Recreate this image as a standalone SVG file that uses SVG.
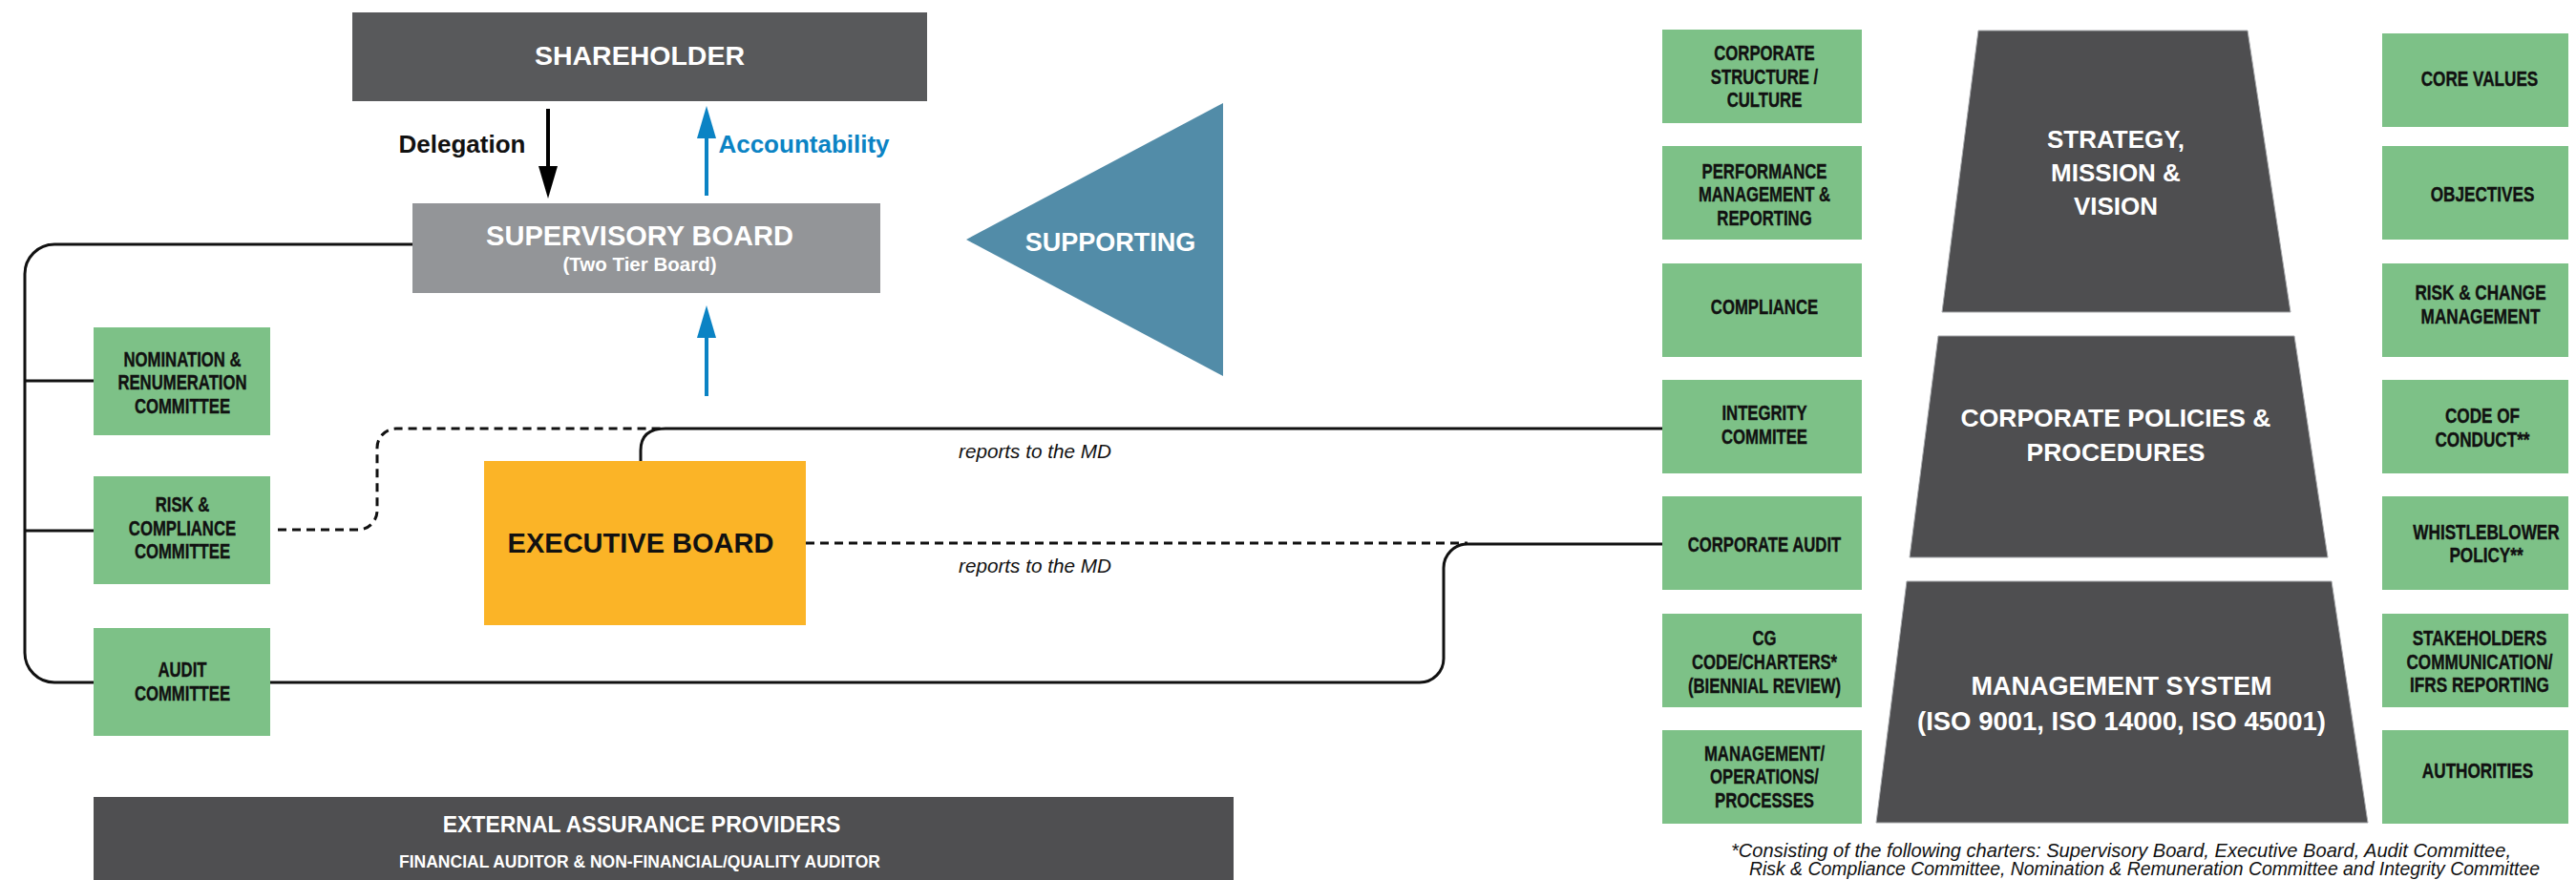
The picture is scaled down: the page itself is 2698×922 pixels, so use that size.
<svg xmlns="http://www.w3.org/2000/svg" width="2698" height="922" viewBox="0 0 2698 922">
<style>
.title{font-family:"Liberation Sans",Arial,sans-serif;font-weight:bold;text-anchor:middle}
.wt{fill:#ffffff}
.box{font-family:"Liberation Sans",Arial,sans-serif;font-weight:bold;font-size:22px;text-anchor:middle;fill:#111111;stroke:#111111;stroke-width:0.4}
.green{fill:#7dc187}
.trap{fill:#4e4e50;stroke:#a7a9ac;stroke-width:1}
.conn{fill:none;stroke:#111111;stroke-width:3}
.dash{fill:none;stroke:#111111;stroke-width:3;stroke-dasharray:9 6}
.note{font-family:"Liberation Sans",Arial,sans-serif;font-style:italic;fill:#111111}
</style>
<defs>
<marker id="arrBlack" markerUnits="userSpaceOnUse" markerWidth="34" markerHeight="20" viewBox="0 0 34 20" refX="10" refY="10" orient="auto"><path d="M0,0 L34,10 L0,20 Z" fill="#000000"/></marker>
<marker id="arrBlue" markerUnits="userSpaceOnUse" markerWidth="34" markerHeight="20" viewBox="0 0 34 20" refX="10" refY="10" orient="auto"><path d="M0,0 L34,10 L0,20 Z" fill="#0b83c4"/></marker>
</defs>
<rect width="2698" height="922" fill="#ffffff"/>

<g id="connectors">
<path class="conn" d="M432,256 H57 A31,31 0 0 0 26,287 V684 A31,31 0 0 0 57,715 H1487 A25,25 0 0 0 1512,690 V595 A25,25 0 0 1 1537,570 H1742"/>
<path class="conn" d="M26,399 H98"/>
<path class="conn" d="M26,556 H98"/>
<path class="dash" d="M291,555 H375 A20,20 0 0 0 395,535 V469 A20,20 0 0 1 415,449 H696"/>
<path class="conn" d="M671,483 V472 Q671,449 697,449 H1742"/>
<path class="dash" d="M844,569 H1537"/>
<line x1="574" y1="114" x2="574" y2="184" stroke="#000000" stroke-width="4" marker-end="url(#arrBlack)"/>
<line x1="740" y1="205" x2="740" y2="135" stroke="#0b83c4" stroke-width="4" marker-end="url(#arrBlue)"/>
<line x1="740" y1="415" x2="740" y2="344" stroke="#0b83c4" stroke-width="4" marker-end="url(#arrBlue)"/>
<text class="title" x="484" y="160" font-size="26" fill="#111111">Delegation</text>
<text class="title" x="842" y="160" font-size="26" fill="#0b83c4">Accountability</text>
<text class="note" x="1004" y="480" font-size="20" textLength="160" lengthAdjust="spacingAndGlyphs">reports to the MD</text>
<text class="note" x="1004" y="600" font-size="20" textLength="160" lengthAdjust="spacingAndGlyphs">reports to the MD</text>
</g>

<g id="shareholder">
<rect x="369" y="13" width="602" height="93" fill="#58595b"/>
<text class="title wt" x="670" y="68" font-size="28.5">SHAREHOLDER</text>
</g>

<g id="supervisory-board">
<rect x="432" y="213" width="490" height="94" fill="#939598"/>
<text class="title wt" x="670" y="257" font-size="29">SUPERVISORY BOARD</text>
<text class="title wt" x="670" y="284" font-size="20.5">(Two Tier Board)</text>
</g>

<g id="executive-board">
<rect x="507" y="483" width="337" height="172" fill="#fbb427"/>
<text class="title" x="671" y="579" font-size="29" fill="#111111">EXECUTIVE BOARD</text>
</g>

<g id="supporting">
<polygon points="1012,251 1281,108 1281,394" fill="#528ca8"/>
<text class="title wt" x="1163" y="263" font-size="27">SUPPORTING</text>
</g>

<g id="nomination-committee">
<rect class="green" x="98" y="343" width="185" height="113"/>
<g transform="translate(191,0) scale(0.76,1)">
<text class="box" x="0" y="384">NOMINATION &amp;</text>
<text class="box" x="0" y="408">RENUMERATION</text>
<text class="box" x="0" y="433">COMMITTEE</text>
</g>
</g>

<g id="risk-compliance-committee">
<rect class="green" x="98" y="499" width="185" height="113"/>
<g transform="translate(191,0) scale(0.76,1)">
<text class="box" x="0" y="536">RISK &amp;</text>
<text class="box" x="0" y="561">COMPLIANCE</text>
<text class="box" x="0" y="585">COMMITTEE</text>
</g>
</g>

<g id="audit-committee">
<rect class="green" x="98" y="658" width="185" height="113"/>
<g transform="translate(191,0) scale(0.76,1)">
<text class="box" x="0" y="709">AUDIT</text>
<text class="box" x="0" y="734">COMMITTEE</text>
</g>
</g>

<g id="external-assurance">
<rect x="98" y="835" width="1194" height="87" fill="#4f4f51"/>
<text class="title wt" x="672" y="872" font-size="23">EXTERNAL ASSURANCE PROVIDERS</text>
<text class="title wt" x="670" y="909" font-size="17.5">FINANCIAL AUDITOR &amp; NON-FINANCIAL/QUALITY AUDITOR</text>
</g>

<g id="strategy">
<polygon class="trap" points="2072,32 2354,32 2399,327 2034,327"/>
<text class="title wt" x="2216" y="155" font-size="26">STRATEGY,</text>
<text class="title wt" x="2216" y="190" font-size="26">MISSION &amp;</text>
<text class="title wt" x="2216" y="225" font-size="26">VISION</text>
</g>

<g id="corporate-policies">
<polygon class="trap" points="2030,352 2403,352 2438,584 2000,584"/>
<text class="title wt" x="2216" y="447" font-size="26.5">CORPORATE POLICIES &amp;</text>
<text class="title wt" x="2216" y="483" font-size="26.5">PROCEDURES</text>
</g>

<g id="management-system">
<polygon class="trap" points="1997,609 2442,609 2480,862 1965,862"/>
<text class="title wt" x="2222" y="728" font-size="27">MANAGEMENT SYSTEM</text>
<text class="title wt" x="2222" y="765" font-size="27.5">(ISO 9001, ISO 14000, ISO 45001)</text>
</g>

<g id="corporate-structure">
<rect class="green" x="1741" y="31" width="209" height="98"/>
<g transform="translate(1848,0) scale(0.76,1)">
<text class="box" x="0" y="63">CORPORATE</text>
<text class="box" x="0" y="88">STRUCTURE /</text>
<text class="box" x="0" y="112">CULTURE</text>
</g>
</g>
<g id="performance-management">
<rect class="green" x="1741" y="153" width="209" height="98"/>
<g transform="translate(1848,0) scale(0.76,1)">
<text class="box" x="0" y="187">PERFORMANCE</text>
<text class="box" x="0" y="211">MANAGEMENT &amp;</text>
<text class="box" x="0" y="236">REPORTING</text>
</g>
</g>
<g id="compliance">
<rect class="green" x="1741" y="276" width="209" height="98"/>
<g transform="translate(1848,0) scale(0.76,1)">
<text class="box" x="0" y="329">COMPLIANCE</text>
</g>
</g>
<g id="integrity-committee">
<rect class="green" x="1741" y="398" width="209" height="98"/>
<g transform="translate(1848,0) scale(0.76,1)">
<text class="box" x="0" y="440">INTEGRITY</text>
<text class="box" x="0" y="465">COMMITEE</text>
</g>
</g>
<g id="corporate-audit">
<rect class="green" x="1741" y="520" width="209" height="98"/>
<g transform="translate(1848,0) scale(0.76,1)">
<text class="box" x="0" y="578">CORPORATE AUDIT</text>
</g>
</g>
<g id="cg-code">
<rect class="green" x="1741" y="643" width="209" height="98"/>
<g transform="translate(1848,0) scale(0.76,1)">
<text class="box" x="0" y="676">CG</text>
<text class="box" x="0" y="701">CODE/CHARTERS*</text>
<text class="box" x="0" y="726">(BIENNIAL REVIEW)</text>
</g>
</g>
<g id="management-operations">
<rect class="green" x="1741" y="765" width="209" height="98"/>
<g transform="translate(1848,0) scale(0.76,1)">
<text class="box" x="0" y="797">MANAGEMENT/</text>
<text class="box" x="0" y="821">OPERATIONS/</text>
<text class="box" x="0" y="846">PROCESSES</text>
</g>
</g>

<g id="core-values">
<rect class="green" x="2495" y="35" width="195" height="98"/>
<g transform="translate(2597,0) scale(0.78,1)">
<text class="box" x="0" y="90">CORE VALUES</text>
</g>
</g>
<g id="objectives">
<rect class="green" x="2495" y="153" width="195" height="98"/>
<g transform="translate(2600,0) scale(0.78,1)">
<text class="box" x="0" y="211">OBJECTIVES</text>
</g>
</g>
<g id="risk-change">
<rect class="green" x="2495" y="276" width="195" height="98"/>
<g transform="translate(2598,0) scale(0.78,1)">
<text class="box" x="0" y="314">RISK &amp; CHANGE</text>
<text class="box" x="0" y="339">MANAGEMENT</text>
</g>
</g>
<g id="code-of-conduct">
<rect class="green" x="2495" y="398" width="195" height="98"/>
<g transform="translate(2600,0) scale(0.78,1)">
<text class="box" x="0" y="443">CODE OF</text>
<text class="box" x="0" y="468">CONDUCT**</text>
</g>
</g>
<g id="whistleblower">
<rect class="green" x="2495" y="520" width="195" height="98"/>
<g transform="translate(2604,0) scale(0.78,1)">
<text class="box" x="0" y="565">WHISTLEBLOWER</text>
<text class="box" x="0" y="589">POLICY**</text>
</g>
</g>
<g id="stakeholders">
<rect class="green" x="2495" y="643" width="195" height="98"/>
<g transform="translate(2597,0) scale(0.78,1)">
<text class="box" x="0" y="676">STAKEHOLDERS</text>
<text class="box" x="0" y="701">COMMUNICATION/</text>
<text class="box" x="0" y="725">IFRS REPORTING</text>
</g>
</g>
<g id="authorities">
<rect class="green" x="2495" y="765" width="195" height="98"/>
<g transform="translate(2595,0) scale(0.78,1)">
<text class="box" x="0" y="815">AUTHORITIES</text>
</g>
</g>

<g id="footnote">
<text class="note" x="1813" y="898" font-size="21" textLength="817" lengthAdjust="spacingAndGlyphs">*Consisting of the following charters: Supervisory Board, Executive Board, Audit Committee,</text>
<text class="note" x="1832" y="917" font-size="20" textLength="828" lengthAdjust="spacingAndGlyphs">Risk &amp; Compliance Committee, Nomination &amp; Remuneration Committee and Integrity Committee</text>
</g>
</svg>
